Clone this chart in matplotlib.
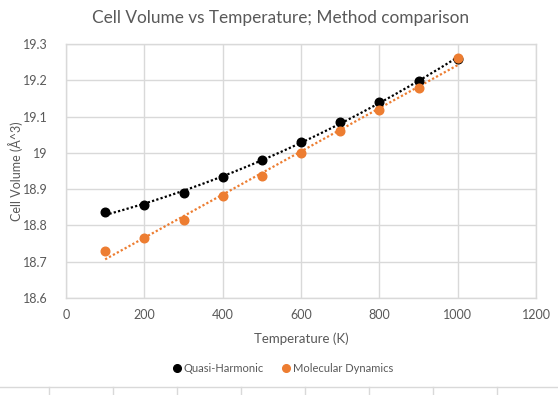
import matplotlib
matplotlib.use("Agg")
import matplotlib.pyplot as plt
import numpy as np
from matplotlib.lines import Line2D
from matplotlib.ticker import FuncFormatter

temperature = [100, 200, 300, 400, 500, 600, 700, 800, 900, 1000]
quasi_harmonic = [18.836, 18.856, 18.889, 18.933, 18.980, 19.030, 19.085, 19.140, 19.198, 19.260]
molecular_dynamics = [18.729, 18.765, 18.814, 18.880, 18.936, 18.999, 19.060, 19.119, 19.179, 19.261]

SERIES = [
    ("Quasi-Harmonic", quasi_harmonic, "#000000", 2),
    ("Molecular Dynamics", molecular_dynamics, "#ED7D31", 1),
]

TEXT = "#595959"
GRID = "#d9d9d9"

plt.rcParams["font.family"] = ["Lato", "DejaVu Sans"]

fig = plt.figure(figsize=(5.58, 3.95), dpi=100)
ax = fig.add_axes([66 / 558, 97 / 395, 470 / 558, 254 / 395])

x = np.array(temperature, dtype=float)
handles = []
for label, ys, color, order in SERIES:
    ys = np.array(ys)
    # Excel-style trendline (poly for QH, linear for MD)
    coef = np.polyfit(x, ys, order)
    xt = np.linspace(x.min(), x.max(), 200)
    ax.plot(xt, np.polyval(coef, xt), color=color, lw=1.6,
            linestyle=(0, (1, 1)), zorder=2)
    ax.plot(x, ys, "o", color=color, ms=6.2, zorder=3)
    handles.append(Line2D([], [], marker="o", ls="none", color=color, ms=5.5,
                          label=label))

ax.set_xlim(0, 1200)
ax.set_ylim(18.6, 19.3)
ax.set_xticks(range(0, 1201, 200))
ax.set_yticks(np.arange(18.6, 19.301, 0.1))
ax.yaxis.set_major_formatter(FuncFormatter(lambda v, p: f"{round(v, 1):g}"))
ax.grid(True, color=GRID, lw=1)
ax.set_axisbelow(True)
for s in ax.spines.values():
    s.set_color(GRID)
    s.set_linewidth(1)
ax.tick_params(length=0, colors=TEXT, labelsize=9)
ax.tick_params(axis="y", pad=13)
ax.tick_params(axis="x", pad=8)

ax.set_xlabel("Temperature (K)", color=TEXT, fontsize=9.5, labelpad=8)
ax.set_ylabel("Cell Volume (Å^3)", color=TEXT, fontsize=9)
ax.yaxis.set_label_coords(-0.092, 0.5)
fig.text(0.502, 1 - 18 / 395, "Cell Volume vs Temperature; Method comparison",
         ha="center", va="center", color=TEXT, fontsize=12.4)

fig.legend(handles=handles, loc="center", bbox_to_anchor=(0.505, 1 - 368 / 395),
           ncol=2, frameon=False, fontsize=8, handletextpad=0.0,
           columnspacing=1.4, labelcolor=TEXT, handlelength=1.2)

# spreadsheet cell borders visible below the chart
fig.add_artist(Line2D([0, 1], [1 - 387 / 395] * 2, color=GRID, lw=1,
                      transform=fig.transFigure))
for px in range(49, 558, 64):
    fig.add_artist(Line2D([px / 558] * 2, [0, 1 - 387 / 395], color=GRID, lw=1,
                          transform=fig.transFigure))

fig.savefig("out.png", dpi=100)
